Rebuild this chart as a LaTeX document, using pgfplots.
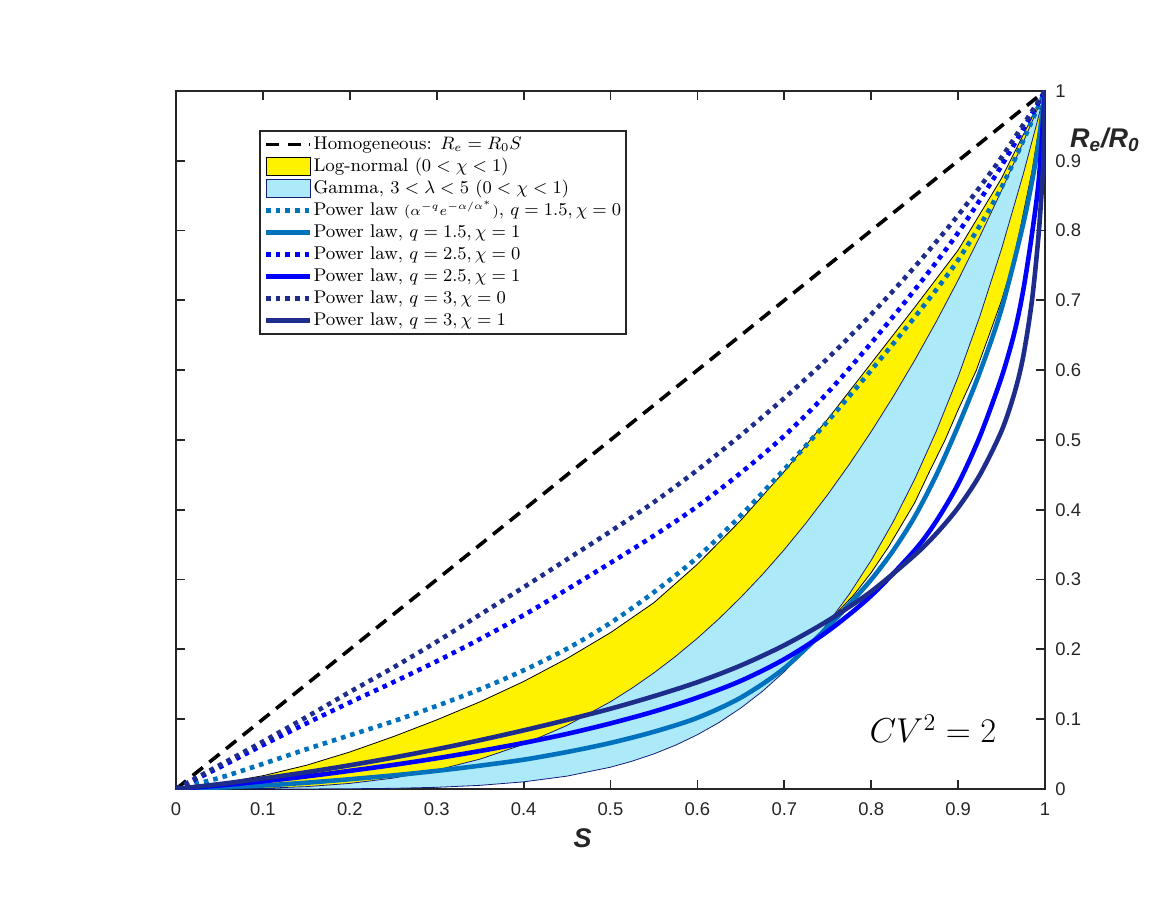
\documentclass[border=0pt]{standalone}
\usepackage{fontspec}
\newfontfamily\arialf{Liberation Sans}
\usepackage{pgfplots}
\pgfplotsset{compat=1.18}
\definecolor{cteal}{RGB}{0,114,189}
\definecolor{cblue}{RGB}{0,0,255}
\definecolor{cnavy}{RGB}{30,45,140}
\definecolor{cgam}{RGB}{172,234,250}
\definecolor{cgamedge}{RGB}{20,30,120}
\definecolor{axgray}{RGB}{38,38,38}
\newcommand{\m}[1]{{\fontsize{9.2}{10}\selectfont$#1$}}
\newcommand{\mm}[1]{{\fontsize{7.3}{10}\selectfont$#1$}}
\pgfplotsset{
  linelegend/.style={legend image code/.code={\draw[##1] (0pt,0pt) -- (22pt,0pt);}},
  arealeg/.style={legend image code/.code={\draw[##1] (0pt,-4.5pt) rectangle (22pt,4.5pt);}},
}
\begin{document}
\begin{tikzpicture}
\useasboundingbox (-88pt,-60pt) rectangle (500pt,394.5pt);
\begin{axis}[
  at={(0pt,0pt)}, anchor=south west,
  scale only axis, width=434.5pt, height=349pt,
  xmin=0, xmax=1, ymin=0, ymax=1,
  xtick={0,0.1,0.2,0.3,0.4,0.5,0.6,0.7,0.8,0.9,1},
  ytick={0,0.1,0.2,0.3,0.4,0.5,0.6,0.7,0.8,0.9,1},
  tick align=inside,
  xtick pos=both, yticklabel pos=right, ytick pos=both,
  major tick length=4.5pt,
  axis line style={axgray, line width=0.9pt},
  every tick/.style={axgray, line width=0.9pt},
  tick label style={font=\arialf\fontsize{9.2}{10}\selectfont, text=axgray},
  /pgf/number format/assume math mode=true,
  xticklabel style={yshift=-3.5pt},
  yticklabel style={xshift=1.7pt},
  xlabel={\arialf\bfseries\itshape S},
  every axis x label/.style={at={(rel axis cs:0.468,0)}, anchor=center, yshift=-24.5pt, font=\fontsize{13.5}{14}\selectfont, text=axgray},
  ylabel={\arialf\bfseries\itshape R\textsubscript{e}/R\textsubscript{0}},
  every axis y label/.style={at={(rel axis cs:1.069,0.93)}, anchor=center, font=\fontsize{13.5}{14}\selectfont, text=axgray},
  legend style={at={(rel axis cs:0.0955,0.944)}, anchor=north west, draw=axgray, line width=1pt, fill=white,
    font=\fontsize{9.2}{10}\selectfont, inner xsep=2pt, inner ysep=1.3pt,
    nodes={inner sep=0.5pt, text height=7.4pt, text depth=2.6pt}, row sep=0pt},
  legend cell align=left,
  linelegend,
]
% Homogeneous
\addplot[black, line width=1.8pt, dash pattern=on 6.5pt off 4.2pt] coordinates {(0,0) (1,1)};
\addlegendentry{Homogeneous: \m{R_e=R_0S}}
% Log-normal band
\addplot[fill=yellow, draw=black, line width=0.4pt, arealeg] coordinates {
 (0,0) (0.05,0.008) (0.1,0.019) (0.15,0.034) (0.2,0.053) (0.25,0.075) (0.3,0.099) (0.35,0.125)
 (0.4,0.154) (0.45,0.187) (0.5,0.224) (0.55,0.267) (0.6,0.322) (0.65,0.385) (0.7,0.455)
 (0.75,0.53) (0.8,0.61) (0.85,0.69) (0.9,0.772) (0.95,0.875) (1,1)
 (0.985,0.885) (0.971,0.8) (0.962,0.75) (0.95,0.7) (0.935,0.648) (0.921,0.6) (0.9,0.543)
 (0.885,0.5) (0.866,0.452) (0.85,0.41) (0.82,0.347) (0.8,0.31) (0.78,0.278) (0.754,0.244)
 (0.7,0.185) (0.6,0.1) (0.5,0.045) (0.4,0.018) (0.3,0.006) (0.2,0.001) (0.1,0.0001) (0,0)} -- cycle;
\addlegendentry{Log-normal \m{(0<\chi<1)}}
% Gamma band
\addplot[fill=cgam, draw=cgamedge, line width=0.4pt, arealeg] coordinates {
 (0,0) (0.05,0.000125) (0.1,0.001) (0.15,0.003375) (0.2,0.008) (0.25,0.015625) (0.3,0.027)
 (0.35,0.042875) (0.4,0.064) (0.45,0.091125) (0.5,0.125) (0.525,0.144703) (0.55,0.166375)
 (0.575,0.190109) (0.6,0.216) (0.625,0.244141) (0.65,0.274625) (0.675,0.307547) (0.7,0.343)
 (0.725,0.381078) (0.75,0.421875) (0.775,0.465484) (0.8,0.512) (0.825,0.561516) (0.85,0.614125)
 (0.875,0.669922) (0.9,0.729) (0.925,0.791453) (0.95,0.857375) (0.975,0.926859) (0.99,0.970299) (1,1)
 (0.99,0.95099) (0.975,0.881096) (0.95,0.773781) (0.925,0.677187) (0.9,0.59049) (0.875,0.512909)
 (0.85,0.443705) (0.825,0.382181) (0.8,0.32768) (0.775,0.279581) (0.75,0.237305) (0.725,0.200305)
 (0.7,0.16807) (0.675,0.140126) (0.65,0.116029) (0.625,0.095367) (0.6,0.07776) (0.575,0.062855)
 (0.55,0.050328) (0.525,0.039884) (0.5,0.03125) (0.45,0.018453) (0.4,0.01024) (0.35,0.005252)
 (0.3,0.00243) (0.25,0.000977) (0.2,0.00032) (0.15,0.0000759) (0.1,0.00001) (0.05,0.0000003) (0,0)} -- cycle;
\addlegendentry{Gamma, \m{3<\lambda<5} \m{(0<\chi<1)}}
% q=1.5 chi=0 dotted
\addplot[cteal, line width=2.3pt, dash pattern=on 2.3pt off 2.5pt, smooth] coordinates {
 (0,0) (0.05,0.016) (0.1,0.036) (0.15,0.057) (0.2,0.077) (0.25,0.097) (0.3,0.119) (0.35,0.143)
 (0.4,0.17) (0.45,0.201) (0.5,0.238) (0.55,0.282) (0.6,0.332) (0.65,0.392) (0.7,0.458)
 (0.75,0.527) (0.8,0.6) (0.85,0.676) (0.9,0.758) (0.95,0.862) (1,1)};
\addlegendentry{Power law \mm{(\alpha^{-q}e^{-\alpha/\alpha^*})}, \m{q=1.5,\chi=0}}
% q=1.5 chi=1 solid
\addplot[cteal, line width=2.3pt, smooth] coordinates {
 (0,0) (0.05,0.0022) (0.1,0.005) (0.15,0.009) (0.2,0.014) (0.25,0.0195) (0.3,0.026) (0.35,0.0335)
 (0.4,0.042) (0.45,0.053) (0.5,0.066) (0.55,0.082) (0.6,0.102) (0.65,0.131) (0.7,0.173)
 (0.75,0.232) (0.775,0.265) (0.8,0.3) (0.825,0.341) (0.85,0.39) (0.875,0.45) (0.9,0.52)
 (0.925,0.597) (0.95,0.688) (0.975,0.81) (0.99,0.905) (1,1)};
\addlegendentry{Power law, \m{q=1.5,\chi=1}}
% q=2.5 chi=0 dotted
\addplot[cblue, line width=2.3pt, dash pattern=on 2.3pt off 2.5pt, smooth] coordinates {
 (0,0) (0.05,0.031) (0.1,0.063) (0.15,0.094) (0.2,0.124) (0.25,0.153) (0.3,0.183) (0.35,0.215)
 (0.4,0.249) (0.45,0.286) (0.5,0.324) (0.55,0.363) (0.6,0.405) (0.65,0.453) (0.7,0.506)
 (0.75,0.568) (0.8,0.639) (0.85,0.715) (0.9,0.797) (0.95,0.893) (1,1)};
\addlegendentry{Power law, \m{q=2.5,\chi=0}}
% q=2.5 chi=1 solid
\addplot[cblue, line width=2.3pt, smooth] coordinates {
 (0,0) (0.05,0.005) (0.1,0.011) (0.15,0.018) (0.2,0.026) (0.25,0.0345) (0.3,0.044) (0.35,0.0545)
 (0.4,0.066) (0.45,0.079) (0.5,0.094) (0.55,0.111) (0.6,0.131) (0.65,0.155) (0.7,0.186)
 (0.75,0.226) (0.8,0.277) (0.85,0.342) (0.875,0.384) (0.9,0.437) (0.925,0.505) (0.95,0.59)
 (0.965,0.655) (0.975,0.715) (0.985,0.795) (0.993,0.875) (1,1)};
\addlegendentry{Power law, \m{q=2.5,\chi=1}}
% q=3 chi=0 dotted
\addplot[cnavy, line width=2.3pt, dash pattern=on 2.3pt off 2.5pt, smooth] coordinates {
 (0,0) (0.05,0.034) (0.1,0.068) (0.15,0.103) (0.2,0.139) (0.25,0.174) (0.3,0.211) (0.35,0.25)
 (0.4,0.289) (0.45,0.329) (0.5,0.369) (0.55,0.411) (0.6,0.457) (0.65,0.507) (0.7,0.56)
 (0.75,0.617) (0.8,0.68) (0.85,0.748) (0.9,0.822) (0.95,0.905) (1,1)};
\addlegendentry{Power law, \m{q=3,\chi=0}}
% q=3 chi=1 solid
\addplot[cnavy, line width=2.3pt, smooth] coordinates {
 (0,0) (0.05,0.007) (0.1,0.015) (0.15,0.024) (0.2,0.034) (0.25,0.045) (0.3,0.057) (0.35,0.07)
 (0.4,0.084) (0.45,0.099) (0.5,0.115) (0.55,0.133) (0.6,0.153) (0.65,0.177) (0.7,0.206)
 (0.75,0.241) (0.8,0.283) (0.85,0.335) (0.875,0.366) (0.9,0.403) (0.925,0.45) (0.95,0.513)
 (0.965,0.568) (0.975,0.62) (0.985,0.7) (0.993,0.8) (0.998,0.9) (1,1)};
\addlegendentry{Power law, \m{q=3,\chi=1}}
\node[font=\fontsize{16.5}{18}\selectfont] at (rel axis cs:0.871,0.086) {$CV^2=2$};
\end{axis}
\end{tikzpicture}
\end{document}
